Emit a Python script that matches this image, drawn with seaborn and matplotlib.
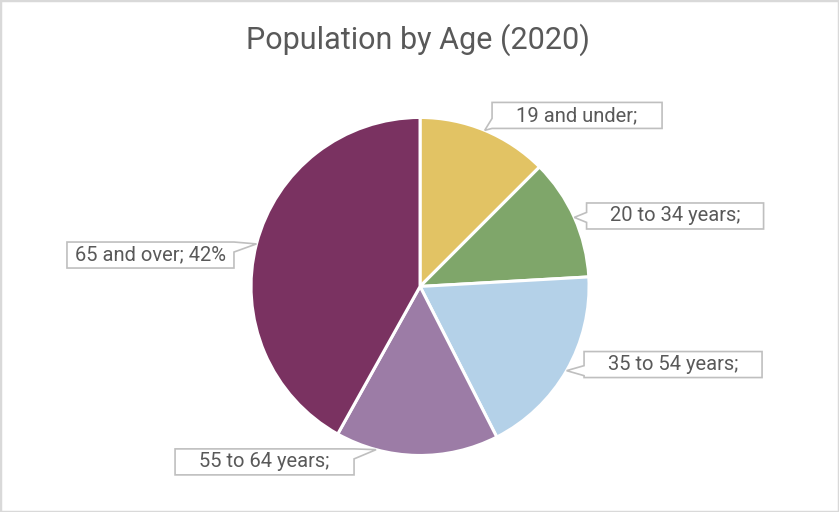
import numpy as np
import matplotlib
matplotlib.use("Agg")
import matplotlib.pyplot as plt
import seaborn as sns
from matplotlib.patches import Polygon, Rectangle
from matplotlib.transforms import IdentityTransform

# ---------------- data ----------------
categories = ["19 and under", "20 to 34 years", "35 to 54 years", "55 to 64 years", "65 and over"]
shares = [12.5, 11.6, 18.4, 15.6, 41.9]
label_texts = ["19 and under;", "20 to 34 years;", "35 to 54 years;", "55 to 64 years;", "65 and over; 42%"]
chart_title = "Population by Age (2020)"

# ---------------- styles / layout ----------------
colors = ["#E2C364", "#7FA66A", "#B4D1E8", "#9C7CA6", "#7A3261"]
label_pos = [(0.929, 1.012), (1.509, 0.417), (1.497, -0.462), (-0.920, -1.038), (-1.595, 0.186)]
leader_offset_deg = [0, 0, 0, -14, 0]
box_w = [170, 177, 178, 179, 167]
box_h = 26
text_color = "#595959"
box_edge = "#BFBFBF"

sns.set_theme(style="white")
plt.rcParams["font.family"] = ["Roboto", "DejaVu Sans"]

fig = plt.figure(figsize=(8.39, 5.12), dpi=100)
fig.patch.set_facecolor("white")
ax = fig.add_axes([0.2992, 0.1104, 0.4029, 0.6602])
wedges, _ = ax.pie(shares, colors=colors, startangle=90, counterclock=False, radius=1.0,
                   wedgeprops=dict(edgecolor="white", linewidth=2.2))
ax.set_xlim(-1, 1)
ax.set_ylim(-1, 1)
ax.axis("off")

texts = []
for (lx, ly), lab in zip(label_pos, label_texts):
    t = ax.text(lx, ly, lab, ha="center", va="center", fontsize=14.5, color=text_color,
                zorder=6, clip_on=False)
    texts.append(t)

fig.canvas.draw()
hw = 5
for w, (lx, ly), bw, off in zip(wedges, label_pos, box_w, leader_offset_deg):
    theta = np.deg2rad((w.theta1 + w.theta2) / 2 + off)
    tx, ty = ax.transData.transform((np.cos(theta) * 1.0, np.sin(theta) * 1.0))
    cx, cy = ax.transData.transform((lx, ly))
    x0, x1 = cx - bw / 2, cx + bw / 2
    y0, y1 = cy - box_h / 2, cy + box_h / 2
    if tx < x0:
        yb = np.clip(ty, y0 + hw, y1 - hw)
        pts = [(x0, y1), (x0, yb + hw), (tx, ty), (x0, yb - hw), (x0, y0), (x1, y0), (x1, y1)]
    elif tx > x1:
        yb = np.clip(ty, y0 + hw, y1 - hw)
        pts = [(x1, y0), (x1, yb - hw), (tx, ty), (x1, yb + hw), (x1, y1), (x0, y1), (x0, y0)]
    elif ty < y0:
        xb = np.clip(tx, x0 + hw, x1 - hw)
        pts = [(x0, y0), (xb - hw, y0), (tx, ty), (xb + hw, y0), (x1, y0), (x1, y1), (x0, y1)]
    else:
        xb = np.clip(tx, x0 + hw, x1 - hw)
        pts = [(x1, y1), (xb + hw, y1), (tx, ty), (xb - hw, y1), (x0, y1), (x0, y0), (x1, y0)]
    poly = Polygon(pts, closed=True, transform=IdentityTransform(), facecolor="white",
                   edgecolor=box_edge, linewidth=1.2, zorder=5)
    ax.add_patch(poly)
    poly.set_clip_on(False)

fig.text(0.4976, 0.922, chart_title, ha="center", va="center", fontsize=22, color=text_color)
fig.add_artist(Rectangle((0, 0), 1, 1, transform=fig.transFigure, fill=False,
                         edgecolor="#D9D9D9", linewidth=2.5))

fig.savefig("out.png", dpi=100, facecolor="white")
